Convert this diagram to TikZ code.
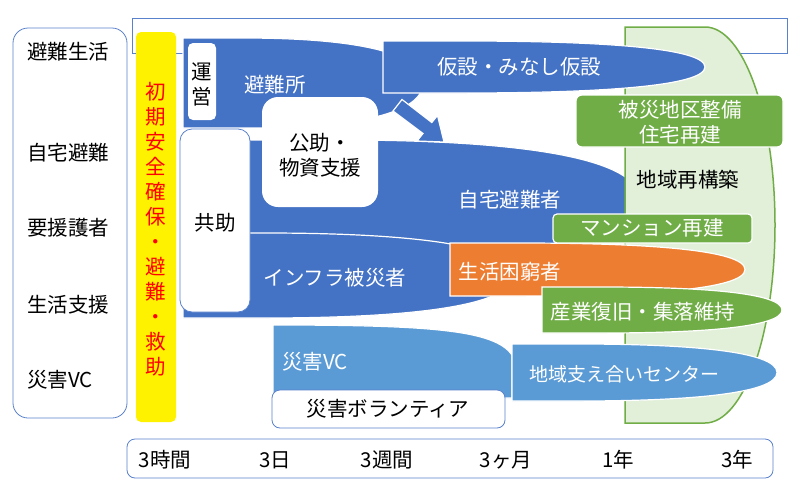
\documentclass[tikz,border=0pt]{standalone}
\usepackage{fontspec}
\setmainfont{Noto Sans CJK JP}
\definecolor{dblue}{HTML}{4472C4}
\definecolor{lblue}{HTML}{5B9BD5}
\definecolor{oran}{HTML}{ED7D31}
\definecolor{gree}{HTML}{70AD47}
\definecolor{lgree}{HTML}{E2F0D9}
\definecolor{edgeblue}{HTML}{5A82CC}
% #1 colour, #2 left x, #3 top y, #4 bottom y, #5 end of flat part, #6 tip x
\newcommand\dsh[6]{%
  \pgfmathsetmacro\dshcy{(#3+#4)/2}%
  \pgfmathsetmacro\dshry{(#4-#3)/2}%
  \pgfmathsetmacro\dshka{#5+0.55*(#6-#5)}%
  \pgfmathsetmacro\dshup{\dshcy-0.75*\dshry}%
  \pgfmathsetmacro\dshdn{\dshcy+0.75*\dshry}%
  \fill[#1, shp] (#2,#3) -- (#5,#3) .. controls (\dshka,#3) and (#6,\dshup) .. (#6,\dshcy)
    .. controls (#6,\dshdn) and (\dshka,#4) .. (#5,#4) -- (#2,#4) -- cycle;}
\begin{document}
\begin{tikzpicture}[x=1pt,y=-1pt,
  lbl/.style={font=\fontsize{20.5}{25}\selectfont, inner sep=0pt, align=center},
  wt/.style={lbl, text=white},
  shp/.style={draw=white, line width=1.2pt},
  obox/.style={draw=edgeblue, line width=0.8pt, fill=white}]
\useasboundingbox (0,0) rectangle (800,490);
\fill[white] (0,0) rectangle (800,490);
% top outline rectangle
\draw[edgeblue, line width=0.8pt] (132,18) rectangle (787,53);
% left box
\draw[obox, rounded corners=15pt] (13,28) rectangle (127,418);
\node[lbl, anchor=west] (l1) at (27,52) {避難生活};
\node[lbl, anchor=west] (l2) at (27,153) {自宅避難};
\node[lbl, anchor=west] (l3) at (27,228) {要援護者};
\node[lbl, anchor=west] (l4) at (27,305) {生活支援};
\node[lbl, anchor=west] (l5) at (27,380) {災害VC};
% yellow bar
\fill[yellow, rounded corners=5pt] (136,32) rectangle (176,422);
\node[lbl, text=red] (init) at (156,229) {初\\期\\安\\全\\確\\保\\・\\避\\難\\・\\救\\助};
% shape A, B, C
\dsh{dblue}{183}{38}{128}{243}{423}
\dsh{dblue}{240}{140}{260}{340}{640}
\dsh{dblue}{183}{233}{318}{265}{513}
% green region
\fill[lgree, draw=gree, line width=1.5pt] (625,27) -- (705,27) arc[start angle=-90, end angle=90, x radius=70, y radius=198] -- (625,423) -- cycle;
% kasetsu
\dsh{dblue}{383}{41}{93}{463}{705}
% arrow
\fill[dblue, shp] (393,111) -- (402,99.5) -- (431.8,122.5) -- (437.5,115.5) -- (444,142) -- (417,141) -- (423,133.5) -- cycle;
% white boxes
\fill[white, rounded corners=16pt] (262,97) rectangle (378,207);
\fill[white, rounded corners=5pt] (188,43) rectangle (216,120);
\draw[obox, rounded corners=12pt] (180,129) rectangle (250,312);
% orange
\dsh{oran}{450}{243}{296}{520}{745}
% green boxes
\fill[gree, shp, rounded corners=4pt] (553,214) rectangle (752,243);
\fill[gree, shp, rounded corners=6pt] (576,95) rectangle (783,147);
\dsh{gree}{542}{287}{333}{602}{782}
% saigai VC
\fill[lblue, shp] (273,325) .. controls (430,325) and (495,330) .. (512,355) -- (512,398) -- (273,398) -- cycle;
\dsh{lblue}{512}{344}{401}{578}{777}
\draw[obox, rounded corners=8pt] (272,390) rectangle (505,428);
% timeline
\draw[obox, rounded corners=8pt] (127,439) rectangle (773,478);
% labels
\node[wt] (hinan) at (275,85) {避難所};
\node[lbl] (unei) at (202,84) {\fontsize{20.5}{27}\selectfont 運\\営};
\node[wt] (kasetsu) at (519,67) {仮設・みなし仮設};
\node[lbl] (kojo) at (320,155) {\fontsize{20.5}{26}\selectfont 公助・\\物資支援};
\node[lbl] (kyojo) at (215,223) {共助};
\node[wt] (jitaku) at (510,200) {自宅避難者};
\node[wt] (infra) at (335,278) {インフラ被災者};
\node[wt] (seikatsu) at (510,272) {生活困窮者};
\node[wt] (mansion) at (652,228) {マンション再建};
\node[wt] (hisai) at (680,122) {被災地区整備\\住宅再建};
\node[lbl] (chiiki) at (688,180) {地域再構築};
\node[wt] (sangyo) at (643,312) {産業復旧・集落維持};
\node[wt, anchor=west] (vc) at (282,362) {災害VC};
\node[wt, font=\fontsize{19}{23}\selectfont] (sasae) at (624,374) {地域支え合いセンター};
\node[lbl] (vol) at (388,409) {災害ボランティア};
\node[lbl] (t1) at (165,460) {3時間};
\node[lbl] (t2) at (275,460) {3日};
\node[lbl] (t3) at (387,460) {3週間};
\node[lbl] (t4) at (506,460) {3ヶ月};
\node[lbl] (t5) at (618,460) {1年};
\node[lbl] (t6) at (737,460) {3年};
\end{tikzpicture}
\end{document}
